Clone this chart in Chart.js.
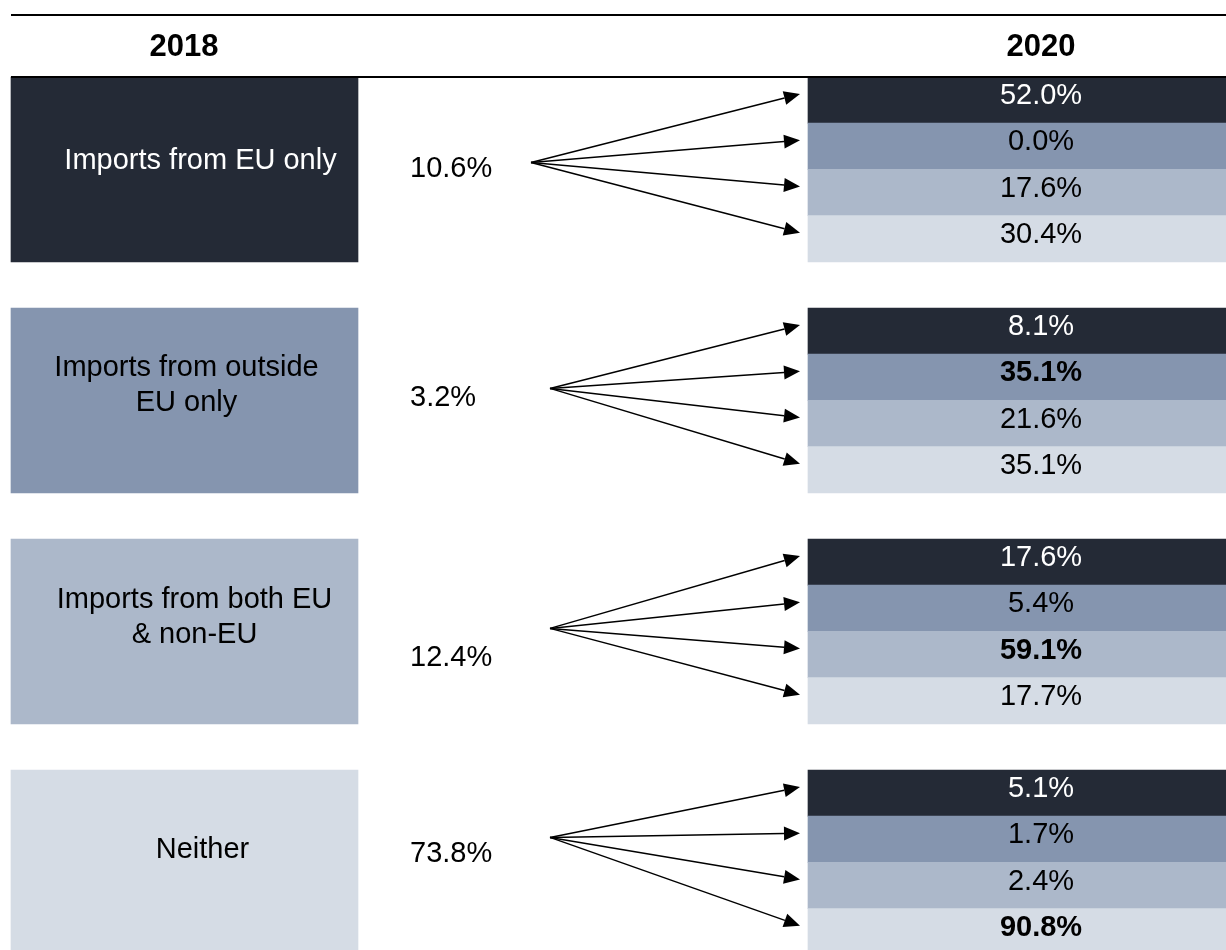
<!DOCTYPE html>
<html>
<head>
<meta charset="utf-8">
<script src="https://cdn.jsdelivr.net/npm/chart.js@4.4.1/dist/chart.umd.min.js"></script>
<style>
  html, body { margin: 0; padding: 0; background: #fff; }
  #wrap { width: 1226px; height: 950px; }
</style>
</head>
<body>
<div id="wrap"><canvas id="chart"></canvas></div>
<script>
const years = ['2018', '2020'];
const states = [['Imports from EU only'], ['Imports from outside', 'EU only'], ['Imports from both EU', '& non-EU'], ['Neither']];
const share2018 = [10.6, 3.2, 12.4, 73.8];
const share2020 = [
  [52.0, 0.0, 17.6, 30.4],
  [8.1, 35.1, 21.6, 35.1],
  [17.6, 5.4, 59.1, 17.7],
  [5.1, 1.7, 2.4, 90.8]
];
const boldCells = [[1, 1], [2, 2], [3, 3]];

const colors = ['#242a36', '#8595af', '#acb8ca', '#d5dce5'];
const textColors = ['#ffffff', '#000000', '#000000', '#000000'];
const FONT = '"Liberation Sans", Arial, sans-serif';

// layout: x in pixels, y in rows (one row = one 2020 cell, 5 rows per group)
const ROW = 46.2, TOP = 77, W = 1226, H = 950;
const boxX = [11, 358];
const cellX = [808, W];
const colX = [184, 1041];
const midX = 410;
const arrowX = [[531, 800], [550, 800], [550, 800], [550, 800]];
const boxTextDx = [16, 2, 10, 18];
const boxTextDy = [-8, -15, -14, -12];
const midDy = [0, -2, 27, -8];
const originDy = [-7, -12, -3, -25];

const boxData = states.map((s, g) => ({ x: boxX.slice(), y: g * 5 + 2 }));
const cellData = [];
const cellColors = [];
share2020.forEach((row, g) => row.forEach((v, r) => {
  cellData.push({ x: cellX.slice(), y: g * 5 + r + 0.5 });
  cellColors.push(colors[r]);
}));

function arrow(ctx, x0, y0, x1, y1) {
  const ang = Math.atan2(y1 - y0, x1 - x0);
  const len = 16, half = 7;
  const bx = x1 - len * Math.cos(ang), by = y1 - len * Math.sin(ang);
  ctx.beginPath(); ctx.moveTo(x0, y0); ctx.lineTo(bx, by); ctx.stroke();
  ctx.beginPath();
  ctx.moveTo(x1, y1);
  ctx.lineTo(bx + half * Math.sin(ang), by - half * Math.cos(ang));
  ctx.lineTo(bx - half * Math.sin(ang), by + half * Math.cos(ang));
  ctx.closePath(); ctx.fill();
}

const annotations = {
  id: 'annotations',
  afterDatasetsDraw(chart) {
    const ctx = chart.ctx;
    const px = v => chart.scales.x.getPixelForValue(v);
    const py = v => chart.scales.yCells.getPixelForValue(v);
    ctx.save();

    // rules
    ctx.strokeStyle = '#000';
    ctx.lineWidth = 2;
    [-1.34, 0].forEach(v => {
      ctx.beginPath(); ctx.moveTo(px(boxX[0]), py(v)); ctx.lineTo(px(W), py(v)); ctx.stroke();
    });

    // headers
    ctx.fillStyle = '#000';
    ctx.textAlign = 'center';
    ctx.textBaseline = 'middle';
    ctx.font = 'bold 31px ' + FONT;
    years.forEach((y, i) => ctx.fillText(y, px(colX[i]), py(-0.63)));

    states.forEach((lines, g) => {
      const cy = py(g * 5 + 2);
      // 2018 box label
      ctx.font = '29px ' + FONT;
      ctx.textAlign = 'center';
      ctx.fillStyle = textColors[g];
      const lh = 34.5;
      lines.forEach((t, k) => {
        ctx.fillText(t, px((boxX[0] + boxX[1]) / 2) + boxTextDx[g], cy + boxTextDy[g] + (k - (lines.length - 1) / 2) * lh);
      });
      // 2018 share
      ctx.fillStyle = '#000';
      ctx.textAlign = 'left';
      ctx.fillText(share2018[g].toFixed(1) + '%', px(midX), cy + midDy[g]);
      // arrows
      ctx.strokeStyle = '#000';
      ctx.lineWidth = 1.5;
      share2020[g].forEach((v, r) => {
        arrow(ctx, px(arrowX[g][0]), cy + originDy[g], px(arrowX[g][1]), py(g * 5 + r + 0.5) - 6);
      });
      // 2020 cells
      ctx.textAlign = 'center';
      share2020[g].forEach((v, r) => {
        const bold = boldCells.some(b => b[0] === g && b[1] === r);
        ctx.font = (bold ? 'bold ' : '') + '29px ' + FONT;
        ctx.fillStyle = textColors[r];
        ctx.fillText(v.toFixed(1) + '%', px(colX[1]), py(g * 5 + r + 0.5) - 4);
      });
    });
    ctx.restore();
  }
};

const noTicks = s => { s.ticks = []; };
const yAxis = {
  axis: 'y', type: 'linear', reverse: true, display: false,
  min: -TOP / ROW, max: (H - TOP) / ROW, afterBuildTicks: noTicks
};

new Chart(document.getElementById('chart'), {
  type: 'bar',
  data: {
    datasets: [
      {
        label: '2018',
        data: boxData,
        yAxisID: 'yBoxes',
        backgroundColor: colors,
        grouped: false,
        barThickness: 4 * ROW
      },
      {
        label: '2020',
        data: cellData,
        yAxisID: 'yCells',
        backgroundColor: cellColors,
        grouped: false,
        barThickness: ROW
      }
    ]
  },
  options: {
    indexAxis: 'y',
    responsive: true,
    maintainAspectRatio: false,
    animation: false,
    layout: { padding: 0 },
    plugins: { legend: { display: false }, tooltip: { enabled: false } },
    scales: {
      x: { type: 'linear', min: 0, max: W, display: false },
      yCells: Object.assign({}, yAxis),
      yBoxes: Object.assign({}, yAxis)
    }
  },
  plugins: [annotations]
});
</script>
</body>
</html>
